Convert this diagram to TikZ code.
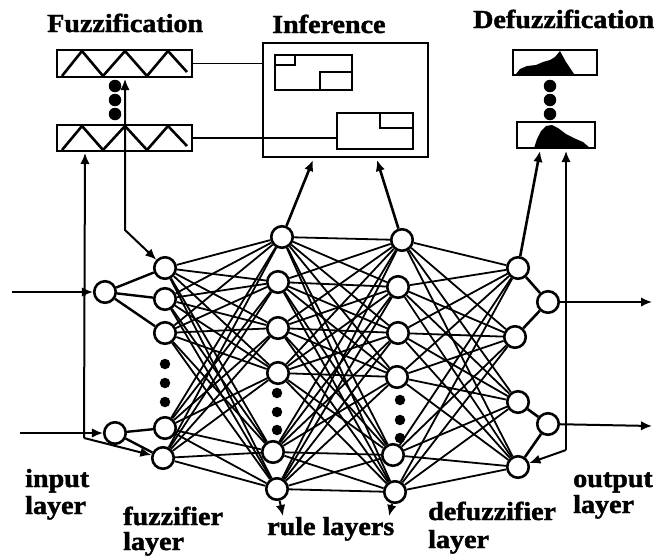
\documentclass[tikz,border=0pt]{standalone}
\usepackage{fontspec}
\newfontfamily\lblfont{Liberation Serif}[FakeStretch=1.08,FakeBold=1.6]
\usetikzlibrary{arrows.meta,backgrounds}
\begin{document}
\begin{tikzpicture}[x=1pt,y=-1pt,
  neuron/.style={circle,draw,line width=2.6pt,fill=white,minimum size=21.5pt,inner sep=0pt},
  link/.style={line width=1.8pt},
  dotmark/.style={circle,fill=black,inner sep=0pt,minimum size=10.5pt},
  bigdot/.style={circle,fill=black,inner sep=0pt,minimum size=12.5pt},
  frame/.style={draw,line width=2.8pt,inner sep=0pt,fill=white},
  thin frame/.style={draw,line width=2.4pt,inner sep=0pt},
  arr/.style={line width=2pt,-{Latex[length=11pt,width=9.5pt]}},
  dblarr/.style={line width=2pt,{Latex[length=11pt,width=9.5pt]}-{Latex[length=11pt,width=9.5pt]}},
  lbl/.style={font=\lblfont\bfseries\fontsize{26}{28}\selectfont,inner sep=0pt,anchor=base west},
]
\useasboundingbox (0,0) rectangle (667,558);

% ---------- titles ----------
\node[lbl] (tFuzz) at (47,32) {Fuzzification};
\node[lbl] (tInf)  at (272,33) {Inference};
\node[lbl] (tDefz) at (473,28) {Defuzzification};

% ---------- fuzzification boxes with triangular memberships ----------
\node[frame,minimum width=135pt,minimum height=27pt] (fzA) at (124.5,63.5) {};
\node[frame,minimum width=135pt,minimum height=26pt] (fzB) at (124.5,138) {};
\draw[line width=2.6pt,line join=miter]
  (62,76) -- (82,51) -- (103,76) -- (125,51) -- (147,76) -- (168,51) -- (187,72);
\draw[line width=2.6pt,line join=miter]
  (62,150) -- (82,126) -- (103,150) -- (125,126) -- (147,150) -- (168,126) -- (187,146);
\node[bigdot] (fzd1) at (115,86) {};
\node[bigdot] (fzd2) at (115,100) {};
\node[bigdot] (fzd3) at (115,114) {};

% ---------- inference box with rule blocks ----------
\node[frame,fill=none,minimum width=165pt,minimum height=114pt] (inf) at (345.5,100) {};
\node[thin frame,minimum width=77pt,minimum height=35pt] (inA) at (313.5,72.5) {};
\draw[line width=2.4pt] (275,65) -- (295,65) -- (295,55);
\draw[line width=2.4pt] (320,90) -- (320,72) -- (352,72);
\node[thin frame,minimum width=76pt,minimum height=36pt] (inB) at (375,131) {};
\draw[line width=2.4pt] (380,113) -- (380,128) -- (413,128);

\draw[line width=1.9pt] (fzA.east) -- (fzA.east -| inf.west);
\draw[line width=1.9pt] (fzB.east) -- (fzB.east -| inB.west);

% ---------- defuzzification boxes ----------
\node[frame,minimum width=84pt,minimum height=25pt] (dzA) at (555,62.5) {};
\node[frame,minimum width=78pt,minimum height=26pt] (dzB) at (556,135) {};
\fill (516,74) -- (520,69) -- (527,66) -- (536,65) -- (543,62) -- (550,60)
  -- (555,57) -- (560,51) -- (566,62) -- (574,74) -- cycle;
\fill (534,148) -- (537,139) -- (541,131) -- (546,126) -- (552,125) -- (558,128)
  -- (566,134) -- (576,139) -- (583,142) -- (590,148) -- cycle;
\node[bigdot] (dzd1) at (550,86) {};
\node[bigdot] (dzd2) at (550,100) {};
\node[bigdot] (dzd3) at (550,114) {};

% ---------- network nodes ----------
\node[neuron] (i1) at (105,292) {};
\node[neuron] (i2) at (115,433) {};

\node[neuron] (f1) at (165,268) {};
\node[neuron] (f2) at (165,299) {};
\node[neuron] (f3) at (165,333) {};
\node[neuron] (f4) at (165,428) {};
\node[neuron] (f5) at (163,458) {};
\node[dotmark] (fd1) at (165,364) {};
\node[dotmark] (fd2) at (165,383) {};
\node[dotmark] (fd3) at (165,402) {};

\node[neuron] (a1) at (282,237) {};
\node[neuron] (a2) at (278,282) {};
\node[neuron] (a3) at (278,328) {};
\node[neuron] (a4) at (278,373) {};
\node[neuron] (a5) at (273,452) {};
\node[neuron] (a6) at (277,489) {};
\node[dotmark] (ad1) at (277,393) {};
\node[dotmark] (ad2) at (277,412) {};
\node[dotmark] (ad3) at (277,430) {};

\node[neuron] (b1) at (402,240) {};
\node[neuron] (b2) at (398,287) {};
\node[neuron] (b3) at (398,333) {};
\node[neuron] (b4) at (397,377) {};
\node[neuron] (b5) at (393,455) {};
\node[neuron] (b6) at (395,492) {};
\node[dotmark] (bd1) at (400,400) {};
\node[dotmark] (bd2) at (400,420) {};
\node[dotmark] (bd3) at (400,438) {};

\node[neuron] (d1) at (518,268) {};
\node[neuron] (d2) at (515,337) {};
\node[neuron] (d3) at (518,402) {};
\node[neuron] (d4) at (518,467) {};

\node[neuron] (o1) at (548,302) {};
\node[neuron] (o2) at (548,424) {};

% ---------- free ends of connectors ----------
\coordinate (inL1) at (12,292);
\coordinate (inL2) at (20,433);
\coordinate (vbot) at (84,438);
\coordinate (vtop) at (85,153);
\coordinate (fbend) at (125,230);
\coordinate (fztop) at (125,79);
\coordinate (infL) at (313,160);
\coordinate (infR) at (377,160);
\coordinate (dzL) at (540,151);
\coordinate (obot) at (566,450);
\coordinate (otop) at (566,151);
\coordinate (outA) at (652,302);
\coordinate (outB) at (652,426);
\coordinate (ruleA) at (283,516);
\coordinate (ruleB) at (389,516);

% ---------- connections ----------
\begin{scope}[on background layer]
  \foreach \j in {1,2,3} \draw[link,line width=2.4pt] (i1) -- (f\j);
  \foreach \j in {4,5} \draw[link,line width=2.4pt] (i2) -- (f\j);
  \foreach \i in {1,...,5} \foreach \j in {1,...,6} \draw[link] (f\i) -- (a\j);
  \foreach \i in {1,...,6} \foreach \j in {1,...,6} \draw[link] (a\i) -- (b\j);
  \foreach \i in {1,...,6} \foreach \j in {1,...,4} \draw[link] (b\i) -- (d\j);
  \draw[link,line width=2.6pt] (d1) -- (o1) -- (d2);
  \draw[link,line width=2.6pt] (d3) -- (o2) -- (d4);
\end{scope}

\draw[arr] (inL1) -- (i1);
\draw[arr] (inL2) -- (i2);
\draw[arr] (vbot) -- (vtop);
\draw[arr] (vbot) -- (f5);
\draw[dblarr] (f1) -- (fbend) -- (fztop);

\draw[arr,line width=2.6pt] (a1) -- (infL);
\draw[arr,line width=2.6pt] (b1) -- (infR);

\draw[arr,line width=2.6pt] (d1) -- (dzL);
\draw[arr] (obot) -- (otop);
\draw[arr] (obot) -- (d4);
\draw[arr] (o1) -- (outA);
\draw[arr] (o2) -- (outB);

\draw[arr] (a6) -- (ruleA);
\draw[arr] (b6) -- (ruleB);

% ---------- layer labels ----------
\node[lbl] (lIn1)  at (25,487) {input};
\node[lbl] (lIn2)  at (25,514) {layer};
\node[lbl] (lFz1)  at (123,525) {fuzzifier};
\node[lbl] (lFz2)  at (123,550) {layer};
\node[lbl] (lRule) at (267,535) {rule layers};
\node[lbl] (lDf1)  at (428,520) {defuzzifier};
\node[lbl] (lDf2)  at (428,548) {layer};
\node[lbl] (lOut1) at (573,487) {output};
\node[lbl] (lOut2) at (573,513) {layer};
\end{tikzpicture}
\end{document}
